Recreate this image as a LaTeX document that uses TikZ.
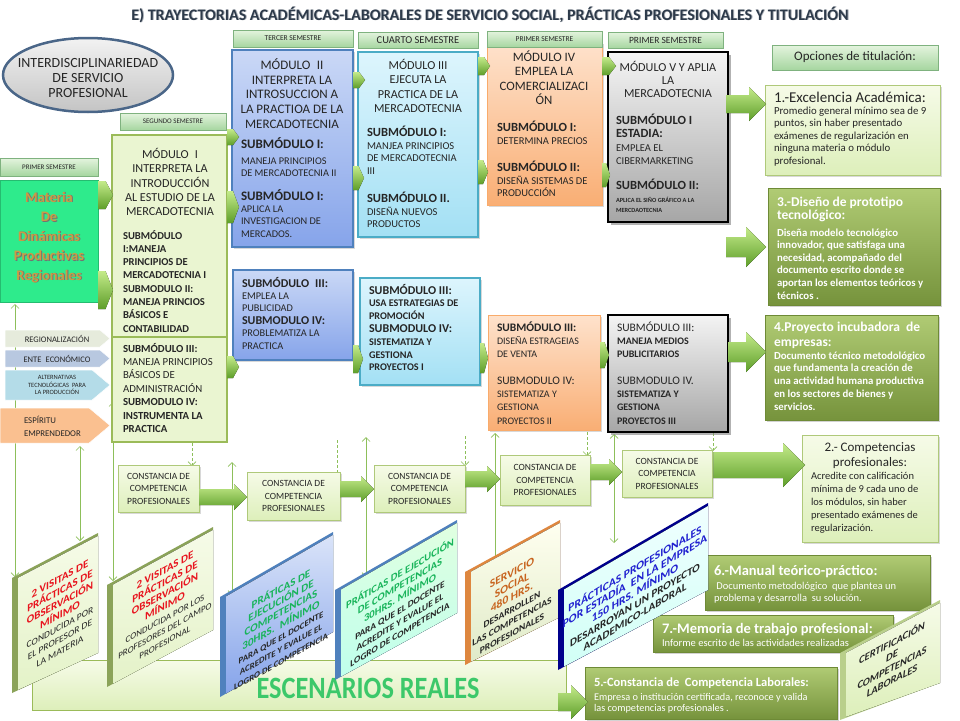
\documentclass[tikz,border=0pt]{standalone}
\usepackage{fontspec}
\setmainfont{Carlito}
\usetikzlibrary{shapes.geometric,shapes.symbols,shadows,arrows.meta}
\definecolor{tabA}{HTML}{E4F4DE}
\definecolor{tabB}{HTML}{A6D6A0}
\definecolor{tabD}{HTML}{7FB27F}
\definecolor{lgA}{HTML}{F6FBE8}
\definecolor{lgB}{HTML}{DDEFBA}
\definecolor{lgD}{HTML}{9BBB59}
\definecolor{matF}{HTML}{2EEB8C}
\definecolor{matT}{HTML}{CC9A45}
\definecolor{blA}{HTML}{CAD8F6}
\definecolor{blB}{HTML}{86A4EA}
\definecolor{blD}{HTML}{4F81BD}
\definecolor{cyA}{HTML}{DDF5FD}
\definecolor{cyB}{HTML}{A3E0F4}
\definecolor{cyD}{HTML}{4BACC6}
\definecolor{orA}{HTML}{FEE2CC}
\definecolor{orB}{HTML}{F9AE74}
\definecolor{orD}{HTML}{F79646}
\definecolor{gyA}{HTML}{F4F4F4}
\definecolor{gyB}{HTML}{A6A6A6}
\definecolor{olA}{HTML}{B0CB74}
\definecolor{olB}{HTML}{76933C}
\definecolor{olD}{HTML}{6E8A36}
\definecolor{arA}{HTML}{C4EB8A}
\definecolor{arB}{HTML}{5E9E2A}
\definecolor{lnG}{HTML}{8DBF5A}
\definecolor{ttl}{HTML}{2D3A4A}
\definecolor{redT}{HTML}{E8141E}
\definecolor{grnT}{HTML}{18B45A}
\definecolor{bluT}{HTML}{2020D0}
\definecolor{orgT}{HTML}{C8641E}
\definecolor{escT}{HTML}{3CC86A}
\definecolor{elA}{HTML}{F2F2F2}
\definecolor{elB}{HTML}{C4C4C4}
\definecolor{elD}{HTML}{4A6688}
\definecolor{txt}{HTML}{262626}
\definecolor{tagA}{HTML}{E6EBDC}
\definecolor{tagB}{HTML}{B8C8E0}
\definecolor{tagC}{HTML}{B4DCE8}
\definecolor{tagD}{HTML}{FAC090}
\newcommand\mybox[6]{\node[#1,anchor=north west,minimum width={(#5-#3)*1pt},minimum height={(#6-#4)*1pt}] (#2) at (#3,#4) {};}
\newcommand\pframe[9]{%
  \fill[#1] (#3,#4) -- (#6,#7) -- (#6,#8) -- (#3,#5) -- cycle;
  \fill[#2] (#3+6,#4-6*#9+3) -- (#6,#7+3) -- (#6,#8) -- (#3+6,#5-6*#9) -- cycle;}
\newcommand\garrow[5]{%
  \fill[bigarr] (#1,#3-#4) -- (#2-#5,#3-#4) -- (#2-#5,#3-#5) -- (#2,#3) -- (#2-#5,#3+#5) -- (#2-#5,#3+#4) -- (#1,#3+#4) -- cycle;}
\newcommand\chev[4]{%
  \fill[bigarr] (#1,#2-#4/2) -- (#1+#3*0.5,#2-#4/2) -- (#1+#3,#2) -- (#1+#3*0.5,#2+#4/2) -- (#1,#2+#4/2) -- cycle;}
\begin{document}
\begin{tikzpicture}[x=1pt,y=-1pt,
  every node/.style={inner sep=0pt,outer sep=0pt,text=txt},
  tab/.style={draw=tabD,line width=1pt,top color=tabA,bottom color=tabB},
  lgbox/.style={draw=lgD!80,line width=0.8pt,top color=lgA,bottom color=lgB,drop shadow={opacity=0.3,shadow xshift=2pt,shadow yshift=-2pt}},
  modI/.style={draw=lgD,line width=2pt,fill=lgA!50!lgB},
  blbox/.style={draw=blD,line width=1.2pt,top color=blA,bottom color=blB,drop shadow={opacity=0.3,shadow xshift=2pt,shadow yshift=-2pt}},
  cybox/.style={draw=cyD,line width=1.2pt,top color=cyA,bottom color=cyB,drop shadow={opacity=0.3,shadow xshift=2pt,shadow yshift=-2pt}},
  orbox/.style={draw=orD!80,line width=1pt,top color=orA,bottom color=orB,drop shadow={opacity=0.3,shadow xshift=2pt,shadow yshift=-2pt}},
  gybox/.style={draw=black,line width=1.6pt,top color=gyA,bottom color=gyB,drop shadow={opacity=0.6,shadow xshift=3pt,shadow yshift=-3pt}},
  olbox/.style={draw=olD,line width=0.6pt,top color=olA,bottom color=olB,drop shadow={opacity=0.35,shadow xshift=2pt,shadow yshift=-2pt}},
  bigarr/.style={top color=arA,bottom color=arB},
  conn/.style={draw=lnG,line width=0.7pt,{Straight Barb[length=4pt,width=8pt]}-{Straight Barb[length=4pt,width=8pt]}},
  dconn/.style={draw=lnG,line width=0.7pt,dash pattern=on 3pt off 2pt,-{Straight Barb[length=4pt,width=8pt]}},
  tagsh/.style={signal,signal to=east,signal pointer angle=80,draw=white,line width=0.5pt},
  ptxt/.style={align=center,font=\bfseries\fontsize{11}{12}\selectfont}
]
\useasboundingbox (0,0) rectangle (960,720);
\fill[white] (0,0) rectangle (960,720);

% title
\node[anchor=base,font=\bfseries\fontsize{16}{17}\selectfont,text=ttl!40] at (491,20.7) {E) TRAYECTORIAS ACADÉMICAS-LABORALES DE SERVICIO SOCIAL, PRÁCTICAS PROFESIONALES Y TITULACIÓN};
\node[anchor=base,font=\bfseries\fontsize{16}{17}\selectfont,text=ttl] (title) at (490,20) {E) TRAYECTORIAS ACADÉMICAS-LABORALES DE SERVICIO SOCIAL, PRÁCTICAS PROFESIONALES Y TITULACIÓN};

% ellipse
\node[ellipse,draw=elD,line width=2.5pt,top color=elA,bottom color=elB,minimum width=170pt,minimum height=74pt] (interd) at (88,75) {};
\node[align=center,font=\fontsize{14}{15}\selectfont,anchor=base] (interdt) at (88,97) {INTERDISCIPLINARIEDAD\\DE SERVICIO\\PROFESIONAL};

% connectors (thin)
\coordinate (c1a) at (15,304); \coordinate (c1b) at (15,577);
\coordinate (c2a) at (80,446); \coordinate (c2b) at (80,541);
\coordinate (c3a) at (113,402); \coordinate (c3b) at (113,581);
\coordinate (c4a) at (232,462); \coordinate (c4b) at (232,595);
\coordinate (c5a) at (366,437); \coordinate (c5b) at (366,577);
\coordinate (c6a) at (495,433); \coordinate (c6b) at (495,568);
\coordinate (c7a) at (614,434); \coordinate (c7b) at (614,543);
\draw[conn] (c1a) -- (c1b);
\draw[conn] (c2a) -- (c2b);
\draw[conn] (c3a) -- (c3b);
\draw[conn] (c4a) -- (c4b);
\draw[conn] (c5a) -- (c5b);
\draw[conn] (c6a) -- (c6b);
\draw[conn] (c7a) -- (c7b);
\coordinate (d1a) at (192,443); \coordinate (d1b) at (192,466);
\coordinate (d2a) at (337,440); \coordinate (d2b) at (337,478);
\coordinate (d3a) at (465,436); \coordinate (d3b) at (465,466);
\coordinate (d4a) at (587,432); \coordinate (d4b) at (587,456);
\coordinate (d5a) at (713,433); \coordinate (d5b) at (713,451);
\draw[dconn] (d1a) -- (d1b);
\draw[dconn] (d2a) -- (d2b);
\draw[dconn] (d3a) -- (d3b);
\draw[dconn] (d4a) -- (d4b);
\draw[dconn] (d5a) -- (d5b);

% Materia
\mybox{fill=matF,draw=matF!80!black,line width=0.4pt}{mat}{0}{180}{98}{302}
\node[align=center,anchor=base,font=\bfseries\fontsize{14.5}{19.5}\selectfont,text=black!55] at (50,280.8) {Materia\\De\\Dinámicas\\Productivas\\Regionales};
\node[align=center,anchor=base,font=\bfseries\fontsize{14.5}{19.5}\selectfont,text=matT] (matt) at (49,280) {Materia\\De\\Dinámicas\\Productivas\\Regionales};

% tags
\node[tagsh,fill=tagA,minimum width=105pt,minimum height=17pt,anchor=north west] (tg1) at (5,330) {};
\node[font=\fontsize{8.5}{9}\selectfont] at (57,338.5) {REGIONALIZACIÓN};
\node[tagsh,fill=tagB,minimum width=105pt,minimum height=17pt,anchor=north west] (tg2) at (5,350) {};
\node[font=\fontsize{8.5}{9}\selectfont] at (57,358.5) {ENTE\enspace ECONÓMICO};
\node[tagsh,fill=tagC,minimum width=105pt,minimum height=30pt,anchor=north west] (tg3) at (5,370) {};
\node[align=center,font=\fontsize{6.5}{7.5}\selectfont] at (57,385) {ALTERNATIVAS\\TECNOLÓGICAS\ \ PARA\\LA PRODUCCIÓN};
\node[tagsh,fill=tagD,minimum width=110pt,minimum height=35pt,anchor=north west] (tg4) at (0,408) {};
\node[align=left,anchor=base west,font=\fontsize{8.8}{13}\selectfont] at (24,436) {ESPÍRITU\\EMPRENDEDOR};

% Modulo I
\mybox{modI}{m1a}{112}{135}{227}{337}
\mybox{modI}{m1b}{112}{337}{227}{442}
\node[anchor=base,align=center,font=\fontsize{12.2}{14.2}\selectfont] (m1h) at (170,215.5) {MÓDULO\enspace I\\INTERPRETA LA\\INTRODUCCIÓN\\AL ESTUDIO DE LA\\MERCADOTECNIA};
\node[anchor=base west,align=left,font=\bfseries\fontsize{10.6}{13.3}\selectfont] (m1s) at (123,332.1) {SUBMÓDULO\\I:MANEJA\\PRINCIPIOS DE\\MERCADOTECNIA I\\SUBMODULO II:\\MANEJA PRINCIOS\\BÁSICOS E\\CONTABILIDAD};
\node[anchor=base west,align=left,font=\fontsize{10.8}{13.4}\selectfont] (m1t) at (123,432.4) {\textbf{SUBMÓDULO III:}\\MANEJA PRINCIPIOS\\BÁSICOS DE\\ADMINISTRACIÓN\\\textbf{SUBMODULO IV:}\\\textbf{INSTRUMENTA LA}\\\textbf{PRACTICA}};

% Modulo II
\mybox{blbox}{m2}{232}{50}{353}{247}
\node[anchor=base,align=center,font=\fontsize{13}{14.7}\selectfont] (m2h) at (292,128.3) {MÓDULO\enspace II\\INTERPRETA LA\\INTROSUCCION A\\LA PRACTIOA DE LA\\MERCADOTECNIA};
\node[anchor=base west,font=\bfseries\fontsize{13}{14}\selectfont] (m2s1) at (241,148) {SUBMÓDULO I:};
\node[anchor=base west,align=left,font=\fontsize{10.3}{12}\selectfont] (m2r1) at (241,176) {MANEJA PRINCIPIOS\\DE MERCADOTECNIA II};
\node[anchor=base west,font=\bfseries\fontsize{13}{14}\selectfont] (m2s2) at (241,200) {SUBMÓDULO I:};
\node[anchor=base west,align=left,font=\fontsize{10.3}{12.6}\selectfont] (m2r2) at (241,237.2) {APLICA LA\\INVESTIGACION DE\\MERCADOS.};

% Modulo III
\mybox{cybox}{m3}{358}{52}{478}{237}
\node[anchor=base,align=center,font=\fontsize{12.2}{14.3}\selectfont] (m3h) at (418,112.4) {MÓDULO III\\EJECUTA LA\\PRACTICA DE LA\\MERCADOTECNIA};
\node[anchor=base west,font=\bfseries\fontsize{12.5}{14}\selectfont] (m3s1) at (367,136) {SUBMÓDULO I:};
\node[anchor=base west,align=left,font=\fontsize{10.5}{12.5}\selectfont] (m3r1) at (367,174) {MANJEA PRINCIPIOS\\DE MERCADOTECNIA\\III};
\node[anchor=base west,font=\bfseries\fontsize{12.5}{14}\selectfont] (m3s2) at (367,202) {SUBMÓDULO II.};
\node[anchor=base west,align=left,font=\fontsize{10.5}{12.5}\selectfont] (m3r2) at (367,227.5) {DISEÑA NUEVOS\\PRODUCTOS};

% Modulo IV
\mybox{orbox}{m4}{487}{42}{602}{205}
\node[anchor=base,align=center,font=\fontsize{12.8}{14.3}\selectfont] (m4h) at (544,104.4) {MÓDULO IV\\EMPLEA LA\\COMERCIALIZACI\\ÓN};
\node[anchor=base west,font=\bfseries\fontsize{12.5}{14}\selectfont] (m4s1) at (497,131) {SUBMÓDULO I:};
\node[anchor=base west,font=\fontsize{10.5}{12.5}\selectfont] (m4r1) at (497,144) {DETERMINA PRECIOS};
\node[anchor=base west,font=\bfseries\fontsize{12.5}{14}\selectfont] (m4s2) at (497,171) {SUBMÓDULO II:};
\node[anchor=base west,align=left,font=\fontsize{10.5}{12.5}\selectfont] (m4r2) at (497,196.5) {DISEÑA SISTEMAS DE\\PRODUCCIÓN};

% Modulo V
\mybox{gybox}{m5}{608}{52}{728}{222}
\node[anchor=base,align=center,font=\fontsize{12.2}{13.3}\selectfont] (m5h) at (668,97.6) {MÓDULO V Y APLIA\\LA\\MERCADOTECNIA};
\node[anchor=base west,align=left,font=\bfseries\fontsize{12.5}{13.3}\selectfont] (m5s1) at (616,137.8) {SUBMÓDULO I\\ESTADIA:};
\node[anchor=base west,align=left,font=\fontsize{10.5}{13.3}\selectfont] (m5r1) at (616,164.3) {EMPLEA EL\\CIBERMARKETING};
\node[anchor=base west,font=\bfseries\fontsize{12.5}{14}\selectfont] (m5s2) at (616,189.5) {SUBMÓDULO II:};
\node[anchor=base west,align=left,font=\bfseries\fontsize{6.3}{10}\selectfont] (m5r2) at (616,212) {APLICA EL SIÑO GRÁFICO A LA\\MERCDAOTECNIA};

% tabs (drawn over the module boxes)
\mybox{tab}{t1}{0}{158}{98}{176}
\node[font=\fontsize{7}{8}\selectfont] at (t1) {PRIMER SEMESTRE};
\mybox{tab}{t2}{120}{113}{226}{130}
\node[font=\fontsize{7}{8}\selectfont] at (t2) {SEGUNDO SEMESTRE};
\mybox{tab}{t3}{233}{30}{353}{47}
\node[font=\fontsize{7.5}{8}\selectfont] at (t3) {TERCER SEMESTRE};
\mybox{tab}{t4}{358}{32}{478}{48}
\node[font=\fontsize{10.5}{11}\selectfont] at (t4) {CUARTO SEMESTRE};
\mybox{tab}{t5}{487}{31}{602}{47}
\node[font=\fontsize{7.5}{8}\selectfont] at (t5) {PRIMER SEMESTRE};
\mybox{tab}{t6}{608}{32}{723}{48}
\node[font=\fontsize{9.5}{10}\selectfont] at (t6) {PRIMER SEMESTRE};
\mybox{tab}{t7}{772}{45}{938}{70}
\node[font=\fontsize{13}{14}\selectfont] at (t7) {Opciones de titulación:};

% Row 2
\mybox{blbox}{b2}{233}{270}{353}{360}
\node[anchor=base west,align=left,font=\fontsize{10.3}{12.4}\selectfont] (b2t) at (242,349) {{\bfseries\fontsize{12}{12.4}\selectfont SUBMÓDULO\enspace III:}\\EMPLEA LA\\PUBLICIDAD\\{\bfseries\fontsize{12}{12.4}\selectfont SUBMODULO IV:}\\PROBLEMATIZA LA\\PRACTICA};
\mybox{cybox}{c2}{360}{278}{480}{385}
\node[anchor=base west,align=left,font=\bfseries\fontsize{10.2}{12.8}\selectfont] (c2t) at (369,370.8) {{\fontsize{12}{12.8}\selectfont SUBMÓDULO III:}\\USA ESTRATEGIAS DE\\PROMOCIÓN\\{\fontsize{12}{12.8}\selectfont SUBMODULO IV:}\\SISTEMATIZA Y\\GESTIONA\\PROYECTOS I};
\mybox{orbox}{o2}{488}{315}{600}{430}
\node[anchor=base west,align=left,font=\fontsize{10}{13.3}\selectfont] (o2t) at (497,424.1) {{\bfseries\fontsize{11.5}{13.3}\selectfont SUBMÓDULO III:}\\DISEÑA ESTRAGEIAS\\DE VENTA\\\mbox{}\\{\fontsize{11.5}{13.3}\selectfont SUBMODULO IV:}\\SISTEMATIZA Y\\GESTIONA\\PROYECTOS II};
\mybox{gybox}{g2}{608}{315}{728}{432}
\node[anchor=base west,align=left,font=\bfseries\fontsize{10}{13.3}\selectfont] (g2t) at (617,424.1) {{\mdseries\fontsize{11.5}{13.3}\selectfont SUBMÓDULO III:}\\MANEJA MEDIOS\\PUBLICITARIOS\\\mbox{}\\{\mdseries\fontsize{11.5}{13.3}\selectfont SUBMODULO IV.}\\SISTEMATIZA Y\\GESTIONA\\PROYECTOS III};

% small chevrons
\chev{98}{195}{15}{28}
\chev{98}{290}{15}{38}
\chev{227}{137}{12}{16}
\chev{227}{207}{12}{32}
\chev{227}{367}{12}{22}
\chev{353}{80}{12}{16}
\chev{353}{178}{11}{24}
\chev{353}{359}{10}{28}
\chev{478}{66}{12}{18}
\chev{478}{172}{10}{24}
\chev{480}{358}{8}{30}
\chev{602}{66}{14}{18}
\chev{602}{175}{8}{24}
\chev{600}{355}{9}{26}

% Right column
\mybox{lgbox}{e1}{765}{85}{940}{175}
\node[anchor=base west,font=\fontsize{15}{16}\selectfont] (e1h) at (774,102) {1.-Excelencia Académica:};
\node[anchor=base west,align=left,font=\fontsize{10.8}{12.5}\selectfont] (e1t) at (774,164) {Promedio general mínimo sea de 9\\puntos, sin haber presentado\\exámenes de regularización en\\ninguna materia o módulo\\profesional.};

\mybox{olbox}{e3}{768}{188}{940}{305}
\node[anchor=base west,align=left,font=\bfseries\fontsize{13.5}{13}\selectfont,text=white] (e3h) at (777,219) {3.-Diseño de prototipo\\tecnológico:};
\node[anchor=base west,align=left,font=\bfseries\fontsize{10.8}{12.6}\selectfont,text=white] (e3t) at (777,299) {Diseña modelo tecnológico\\innovador, que satisfaga una\\necesidad, acompañado del\\documento escrito donde se\\aportan los elementos teóricos y\\técnicos .};

\mybox{olbox}{e4}{765}{315}{938}{420}
\node[anchor=base west,align=left,font=\bfseries\fontsize{13.5}{15}\selectfont,text=white] (e4h) at (774,346) {4.Proyecto incubadora\ \ de\\empresas:};
\node[anchor=base west,align=left,font=\bfseries\fontsize{10.8}{12.8}\selectfont,text=white] (e4t) at (774,410.2) {Documento técnico metodológico\\que fundamenta la creación de\\una actividad humana productiva\\en los sectores de bienes y\\servicios.};

\mybox{lgbox}{e2}{802}{435}{938}{542}
\node[anchor=base,align=center,font=\fontsize{13}{15}\selectfont] (e2h) at (870,466) {2.- Competencias\\profesionales:};
\node[anchor=base west,align=left,font=\fontsize{10.5}{13}\selectfont] (e2t) at (811,531) {Acredite con calificación\\mínima de 9 cada uno de\\los módulos, sin haber\\presentado exámenes de\\regularización.};

\mybox{olbox}{e6}{705}{555}{930}{610}
\node[anchor=base west,font=\bfseries\fontsize{14.5}{15}\selectfont,text=white] (e6h) at (714,575) {6.-Manual teórico-práctico:};
\node[anchor=base west,align=left,font=\fontsize{10.5}{12}\selectfont,text=white] (e6t) at (714,601) {\ Documento metodológico\ \ que plantea un\\problema y desarrolla\ \ su solución.};

\mybox{olbox}{e7}{653}{615}{893}{652}
\node[anchor=base west,font=\bfseries\fontsize{14.5}{15}\selectfont,text=white] (e7h) at (662,633) {7.-Memoria de trabajo profesional:};
\node[anchor=base west,font=\fontsize{10.5}{12}\selectfont,text=white] (e7t) at (662,646.5) {Informe escrito de las actividades realizadas};

% Escenarios
\mybox{draw=lgD,line width=1pt,top color=lgA,bottom color=lgB}{esc}{32}{660}{566}{710}
\node[font=\bfseries\fontsize{31}{31}\selectfont,text=escT] (esct) at (368,688) {\scalebox{0.85}[1]{ESCENARIOS REALES}};

\mybox{olbox}{e5}{585}{667}{837}{719}
\node[anchor=base west,font=\bfseries\fontsize{12.5}{14}\selectfont,text=white] (e5h) at (594,686) {5.-Constancia de\ \ Competencia Laborales:};
\node[anchor=base west,align=left,font=\fontsize{10.3}{11.5}\selectfont,text=white] (e5t) at (594,711.5) {Empresa o institución certificada, reconoce y valida\\las competencias profesionales .};

% big arrows
\garrow{726}{766}{104}{9}{17}
\garrow{726}{766}{247}{10}{20}
\garrow{728}{766}{352}{10}{20}
\garrow{712}{805}{465}{13}{22}
\garrow{558}{588}{702}{9}{17}

% constancia boxes
\mybox{lgbox}{k1}{118}{465}{199}{512}
\mybox{lgbox}{k2}{247}{472}{340}{520}
\mybox{lgbox}{k3}{374}{465}{465}{512}
\mybox{lgbox}{k4}{500}{455}{590}{505}
\mybox{lgbox}{k5}{622}{450}{712}{497}
\foreach \k in {k1,k2,k3,k4,k5}{
  \node[align=center,font=\fontsize{9.5}{12.5}\selectfont] at (\k) {CONSTANCIA DE\\COMPETENCIA\\PROFESIONALES};}
\garrow{199}{247}{497}{8}{13}
\garrow{340}{374}{489}{8}{13}
\garrow{465}{500}{479}{8}{13}
\garrow{590}{622}{472}{8}{13}

% parallelograms
\pframe{fill=olB!85}{top color=lgA,bottom color=lgB!80}{12}{578}{693}{98}{533}{653}{0.52}
\node[ptxt,yslant=0.55] (p1t) at (60,615) {\textcolor{redT}{\fontsize{11}{12}\selectfont 2 VISITAS DE}\\\textcolor{redT}{\fontsize{11}{12}\selectfont PRÁCTICAS DE}\\\textcolor{redT}{\fontsize{11}{12}\selectfont OBSERVACIÓN}\\\textcolor{redT}{\fontsize{11}{12}\selectfont MÍNIMO}\\{\mdseries\fontsize{9.5}{12}\selectfont CONDUCIDA\ POR}\\{\mdseries\fontsize{9.5}{12}\selectfont EL PROFESOR DE}\\{\mdseries\fontsize{9.5}{12}\selectfont LA MATERIA}};
\pframe{fill=olB!85}{top color=lgA,bottom color=lgB!80}{107}{585}{687}{213}{527}{630}{0.55}
\node[ptxt,yslant=0.55] (p2t) at (165,606) {\textcolor{redT}{\fontsize{11}{12}\selectfont 2 VISITAS DE}\\\textcolor{redT}{\fontsize{11}{12}\selectfont PRÁCTICAS DE}\\\textcolor{redT}{\fontsize{11}{12}\selectfont OBSERVACIÓN}\\\textcolor{redT}{\fontsize{11}{12}\selectfont MÍNIMO}\\{\mdseries\fontsize{9}{12}\selectfont CONDUCIDA POR LOS}\\{\mdseries\fontsize{9}{12}\selectfont PROFESORES DEL CAMPO}\\{\mdseries\fontsize{9}{12}\selectfont PROFESIONAL}};
\pframe{fill=blD}{top color=blA!70,bottom color=blB}{220}{597}{697}{333}{532}{632}{0.58}
\node[ptxt,yslant=0.56] (p3t) at (281,624) {\textcolor{grnT}{\fontsize{11}{12}\selectfont PRÁTICAS DE}\\\textcolor{grnT}{\fontsize{11}{12}\selectfont EJECUCIÓN DE}\\\textcolor{grnT}{\fontsize{11}{12}\selectfont COMPETENCIAS}\\\textcolor{grnT}{\fontsize{11}{12}\selectfont 30HRS.\ \ MÍNIMO}\\{\fontsize{8.8}{11}\selectfont PARA QUE EL DOCENTE}\\{\fontsize{8.8}{11}\selectfont ACREDITE Y EVALUE EL}\\{\fontsize{8.8}{11}\selectfont LOGRO DE COMPETENCIA}};
\pframe{fill=blD}{top color=green!12,bottom color=green!30!cyan!25}{335}{590}{680}{457}{520}{613}{0.57}
\node[ptxt,yslant=0.6] (p4t) at (400,603) {\textcolor{grnT}{\fontsize{10.6}{12}\selectfont PRÁTICAS DE EJECUCIÓN}\\\textcolor{grnT}{\fontsize{10.6}{12}\selectfont DE COMPETENCIAS}\\\textcolor{grnT}{\fontsize{10.6}{12}\selectfont 30HRS. MÍNIMO}\\{\fontsize{9.3}{12}\selectfont PARA QUE EL DOCENTE}\\{\fontsize{9.3}{12}\selectfont ACREDITE Y EVALUE EL}\\{\fontsize{9.3}{12}\selectfont LOGRO DE COMPETENCIA}};
\pframe{fill=orD!90!black}{top color=yellow!6,bottom color=olA!40}{465}{572}{665}{560}{520}{617}{0.55}
\node[ptxt,yslant=0.55] (p5t) at (512,603) {\textcolor{orgT}{\fontsize{11.5}{12}\selectfont SERVICIO}\\\textcolor{orgT}{\fontsize{11.5}{12}\selectfont SOCIAL}\\\textcolor{orgT}{\fontsize{11.5}{12}\selectfont 480 HRS.}\\{\fontsize{9.5}{12}\selectfont DESARROLLEN}\\{\fontsize{9.5}{12}\selectfont LAS COMPETENCIAS}\\{\fontsize{9.5}{12}\selectfont PROFESIONALES}};
\pframe{fill=blue!55!black}{top color=cyan!6,bottom color=green!20!cyan!18}{558}{590}{670}{708}{503}{590}{0.58}
\node[ptxt,yslant=0.6] (p6t) at (635,592) {\textcolor{bluT}{\fontsize{11.5}{12.5}\selectfont PRÁCTICAS PROFESIONALES}\\\textcolor{bluT}{\fontsize{11.5}{12.5}\selectfont POR ESTADÍA\ \ EN LA EMPRESA}\\\textcolor{bluT}{\fontsize{11.5}{12.5}\selectfont 150 HRS. MÍNIMO}\\{\fontsize{11}{12.5}\selectfont DESARROYAN UN PROYECTO}\\{\fontsize{11}{12.5}\selectfont ACADEMICO-LABORAL}};

% certificacion
\pframe{fill=lgD!70}{top color=lgA,bottom color=lgB}{840}{653}{720}{940}{600}{683}{0.53}
\node[align=center,yslant=0.53,font=\bfseries\itshape\fontsize{10.5}{12.5}\selectfont] (cert) at (892,661) {CERTIFICACIÓN\\DE\\COMPETENCIAS\\LABORALES};
\end{tikzpicture}
\end{document}
